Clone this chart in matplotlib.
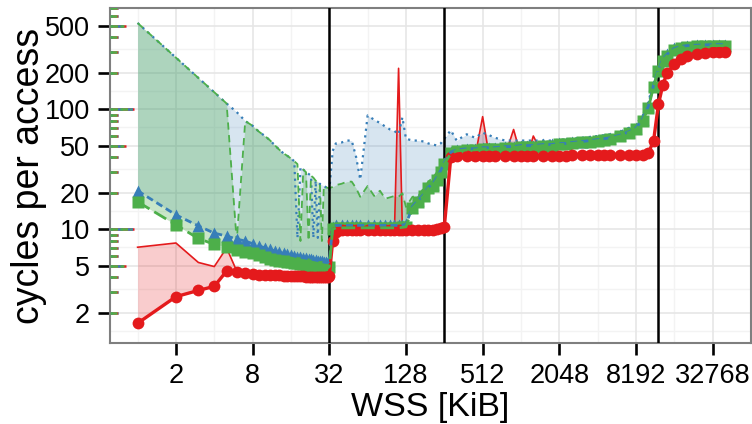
import matplotlib
matplotlib.use("Agg")
import matplotlib.pyplot as plt
import matplotlib.ticker as mticker
import matplotlib.transforms as mtransforms

plt.rcParams['font.family'] = ['Liberation Sans', 'DejaVu Sans']

RED = '#E41A1C'
BLUE = '#377EB8'
GREEN = '#4DAF4A'

# working set sizes in KiB
wss = [1, 2, 3, 4, 5, 6, 7, 8, 9, 10, 11, 12, 13, 14, 15, 16,
       17, 18, 19, 20, 21, 22, 23, 24, 25, 26, 27, 28, 29, 30, 31, 32,
       34, 36, 40, 44, 48, 52, 56, 64, 72, 80, 88, 96, 104, 112, 120, 128,
       144, 160, 176, 192, 208, 224, 240, 256,
       288, 320, 384, 448, 512, 576, 640, 768, 896, 1024,
       1152, 1280, 1536, 1792, 2048, 2304, 2560, 3072, 3584, 4096,
       4608, 5120, 6144, 7168, 8192, 9216, 10240, 11264, 12288, 13312, 14336,
       16384, 18432, 20480, 24576, 28672, 32768, 36864, 40960]

red_med = [1.65, 2.75, 3.1, 3.35, 4.5, 4.4, 4.3, 4.25, 4.2, 4.2, 4.15, 4.15, 4.15, 4.1, 4.1, 4.1,
           4.05, 4.05, 4.05, 4.05, 4.0, 4.0, 4.0, 4.0, 4.0, 4.0, 4.0, 4.0, 4.0, 4.0, 4.0, 4.1,
           8.0, 9.6, 9.8, 9.8, 9.8, 9.8, 9.8, 9.8, 9.8, 9.8, 9.8, 9.8, 9.8, 9.9, 9.8, 9.8,
           9.8, 9.8, 9.8, 9.9, 9.9, 10.0, 10.2, 10.5,
           40, 41, 41, 41, 41, 41, 41, 41, 41, 41,
           41, 41, 41, 41, 41, 41, 41.5, 41.5, 41.5, 41.5,
           41.5, 41.5, 41.5, 41.5, 42, 42, 43, 55, 110, 160, 200,
           240, 265, 280, 290, 295, 300, 300, 300]
red_hi = [7.1, 7.7, 5.3, 4.9, 7.0, 4.5, 4.3, 4.25, 4.2, 4.2, 4.15, 4.15, 4.15, 4.1, 4.1, 4.1,
          4.05, 4.05, 4.05, 4.05, 4.0, 4.0, 4.0, 4.0, 4.0, 4.0, 4.0, 4.0, 4.0, 4.0, 4.0, 4.1,
          8.0, 9.6, 9.8, 9.8, 9.8, 9.8, 9.8, 9.8, 9.8, 9.8, 9.8, 9.8, 9.8, 220, 9.8, 9.8,
          9.8, 9.8, 9.8, 9.9, 9.9, 10.0, 10.2, 10.5,
          40, 41, 41, 41, 87, 41, 41, 41, 68, 41,
          41, 60, 41, 41, 41, 41, 41.5, 41.5, 41.5, 41.5,
          41.5, 41.5, 41.5, 41.5, 42, 42, 43, 55, 110, 160, 200,
          240, 265, 280, 290, 295, 300, 300, 300]

blue_med = [21, 13.2, 10.7, 9.3, 8.8, 8.3, 8.0, 7.6, 7.3, 7.0, 6.8, 6.6, 6.45, 6.3, 6.2, 6.1,
            6.0, 5.9, 5.85, 5.8, 5.75, 5.7, 5.65, 5.6, 5.55, 5.5, 5.45, 5.4, 5.35, 5.3, 5.3, 5.4,
            10.5, 10.8, 10.8, 10.8, 10.8, 10.8, 10.8, 10.8, 10.8, 10.8, 10.8, 10.8, 10.8, 10.8, 10.9, 11,
            15.5, 17.5, 19.5, 22.5, 24, 27, 31, 36,
            44, 46, 47, 47, 48, 48, 48, 49, 49, 50,
            50, 50, 51, 51, 52, 52, 53, 54, 55, 56,
            57, 58, 61, 65, 70, 83, 106, 160, 215, 262, 288,
            322, 334, 340, 343, 345, 347, 347, 347]
blue_hi = [525, 270, 183, 139, 112, 95, 80, 73, 65, 60, 55, 50, 46, 43, 41, 39,
           37, 8.5, 33, 31.5, 30, 29, 28, 8.5, 25.5, 8.5, 24, 23.5, 23, 22.5, 22.2, 21,
           45, 52, 53, 55, 55, 40, 26, 89, 82, 77, 72, 68, 66, 62, 86, 57,
           55, 55, 54, 52, 51, 50, 52, 57,
           67, 55, 62, 58, 64, 61, 58, 55, 55, 55,
           55, 55, 55, 55, 56, 56, 57, 58, 59, 60,
           61, 62, 65, 70, 75, 88, 115, 170, 230, 280, 300,
           335, 345, 350, 352, 354, 355, 355, 355]

green_med = [17, 10.9, 8.4, 7.5, 7.2, 6.7, 6.5, 6.3, 6.1, 5.9, 5.7, 5.6, 5.5, 5.4, 5.35, 5.3,
             5.25, 5.2, 5.15, 5.1, 5.05, 5.0, 4.95, 4.9, 4.88, 4.85, 4.82, 4.8, 4.78, 4.75, 4.75, 4.9,
             10.0, 10.3, 10.3, 10.3, 10.3, 10.3, 10.3, 10.3, 10.3, 10.3, 10.3, 10.3, 10.3, 10.3, 10.4, 10.5,
             15, 17, 19, 22, 23, 26, 30, 35,
             43, 45, 46, 46, 47, 47, 47, 48, 48, 49,
             49, 49, 50, 50, 51, 51, 52, 53, 54, 55,
             56, 57, 60, 64, 68, 80, 102, 155, 210, 255, 280,
             315, 328, 333, 336, 338, 340, 340, 340]
green_hi = [525, 270, 183, 139, 112, 8, 80, 73, 65, 60, 55, 50, 46, 43, 41, 39,
            37, 35, 8, 31.5, 30, 8, 28, 27, 25.5, 25, 24, 8, 23, 22.5, 22.2, 22,
            22.6, 23.4, 24, 25, 25, 22, 18.7, 23, 19, 21, 18, 18.5, 19, 18.7, 20, 15.4,
            18.7, 19, 22, 25, 27, 30, 33, 37,
            45, 47, 48, 48, 49, 49, 49, 50, 50, 51,
            51, 51, 52, 52, 53, 53, 54, 55, 56, 57,
            58, 59, 62, 66, 71, 84, 108, 163, 220, 265, 290,
            325, 336, 340, 343, 345, 347, 347, 347]

cache_sizes = [32, 256, 12288]
x_ticks = [2, 8, 32, 128, 512, 2048, 8192, 32768]
y_ticks = [2, 5, 10, 20, 50, 100, 200, 500]

fig = plt.figure(figsize=(7.52, 4.24), dpi=100)
ax = fig.add_axes([110 / 752, 1 - 343 / 424, 641 / 752, 335 / 424])
ax.set_xscale('log', base=2)
ax.set_yscale('log')
ax.set_xlim(2 ** -0.72, 2 ** 16.0)
ax.set_ylim(1.13, 700)

# grid (ggplot style: minor lines halfway between majors)
for v in [1, 4, 16, 64, 256, 1024, 4096, 16384]:
    ax.axvline(v, color='#F3F3F3', lw=1.0, zorder=0)
for v in [1.414, 3.162, 7.071, 14.14, 31.62, 70.71, 141.4, 316.2]:
    ax.axhline(v, color='#F3F3F3', lw=1.0, zorder=0)
for v in x_ticks:
    ax.axvline(v, color='#E6E6E6', lw=1.2, zorder=0.5)
for v in y_ticks:
    ax.axhline(v, color='#E6E6E6', lw=1.2, zorder=0.5)

# min/max ribbons
ax.fill_between(wss, red_med, red_hi, color=RED, alpha=0.22, lw=0, zorder=1)
ax.fill_between(wss, blue_med, blue_hi, color=BLUE, alpha=0.2, lw=0, zorder=1)
ax.fill_between(wss, green_med, green_hi, color=GREEN, alpha=0.3, lw=0, zorder=1)
ax.plot(wss, red_hi, color=RED, lw=1.2, zorder=2)
ax.plot(wss, blue_hi, color=BLUE, lw=1.6, ls=(0, (1, 2)), zorder=2)
ax.plot(wss, green_hi, color=GREEN, lw=1.3, ls=(0, (4, 3)), zorder=2)

for c in cache_sizes:
    ax.axvline(c, color='black', lw=1.8, zorder=3)

# points then lines
ax.plot(wss, blue_med, ls='none', marker='^', ms=9, color=BLUE, mec='none', zorder=4)
ax.plot(wss, green_med, ls='none', marker='s', ms=8, color=GREEN, mec='none', zorder=4)
ax.plot(wss, red_med, ls='none', marker='o', ms=8.5, color=RED, mec='none', zorder=4)
ax.plot(wss, red_med, color=RED, lw=2.4, zorder=5)
ax.plot(wss, blue_med, color=BLUE, lw=2, ls=(0, (2.5, 1.5)), zorder=5)
ax.plot(wss, green_med, color=GREEN, lw=2, ls=(0, (5, 2)), zorder=5)

# log ticks along the left edge
trans = mtransforms.blended_transform_factory(ax.transAxes, ax.transData)
for k in [1, 10, 100]:
    for m in range(1, 10):
        v = m * k
        if v < 1.13 or v > 700:
            continue
        if m == 1:
            ln = 0.037
        elif m == 5:
            ln = 0.025
        else:
            ln = 0.013
        ax.plot([0, ln], [v, v], transform=trans, color=RED, lw=1.8, zorder=2.5, solid_capstyle='butt')
        ax.plot([0, ln], [v, v], transform=trans, color=BLUE, lw=1.8, zorder=2.5, ls=(1, (2, 2)))
        ax.plot([0, ln * 0.9], [v, v], transform=trans, color=GREEN, lw=1.8, zorder=2.6, ls=(0, (3, 1)))

ax.xaxis.set_major_locator(mticker.FixedLocator(x_ticks))
ax.xaxis.set_major_formatter(mticker.FixedFormatter([str(t) for t in x_ticks]))
ax.xaxis.set_minor_locator(mticker.NullLocator())
ax.yaxis.set_major_locator(mticker.FixedLocator(y_ticks))
ax.yaxis.set_major_formatter(mticker.FixedFormatter([str(t) for t in y_ticks]))
ax.yaxis.set_minor_locator(mticker.NullLocator())
ax.tick_params(axis='both', length=8.5, width=1.9, color='black', labelsize=19.5, pad=6)

for s in ax.spines.values():
    s.set_color('#7F7F7F')
    s.set_linewidth(1.5)

ax.set_xlabel('WSS [KiB]', fontsize=24.5, labelpad=2)
ax.set_ylabel('cycles per access', fontsize=27)
ax.yaxis.set_label_coords(-0.098, 0.5)

fig.savefig('out.png', dpi=100)
